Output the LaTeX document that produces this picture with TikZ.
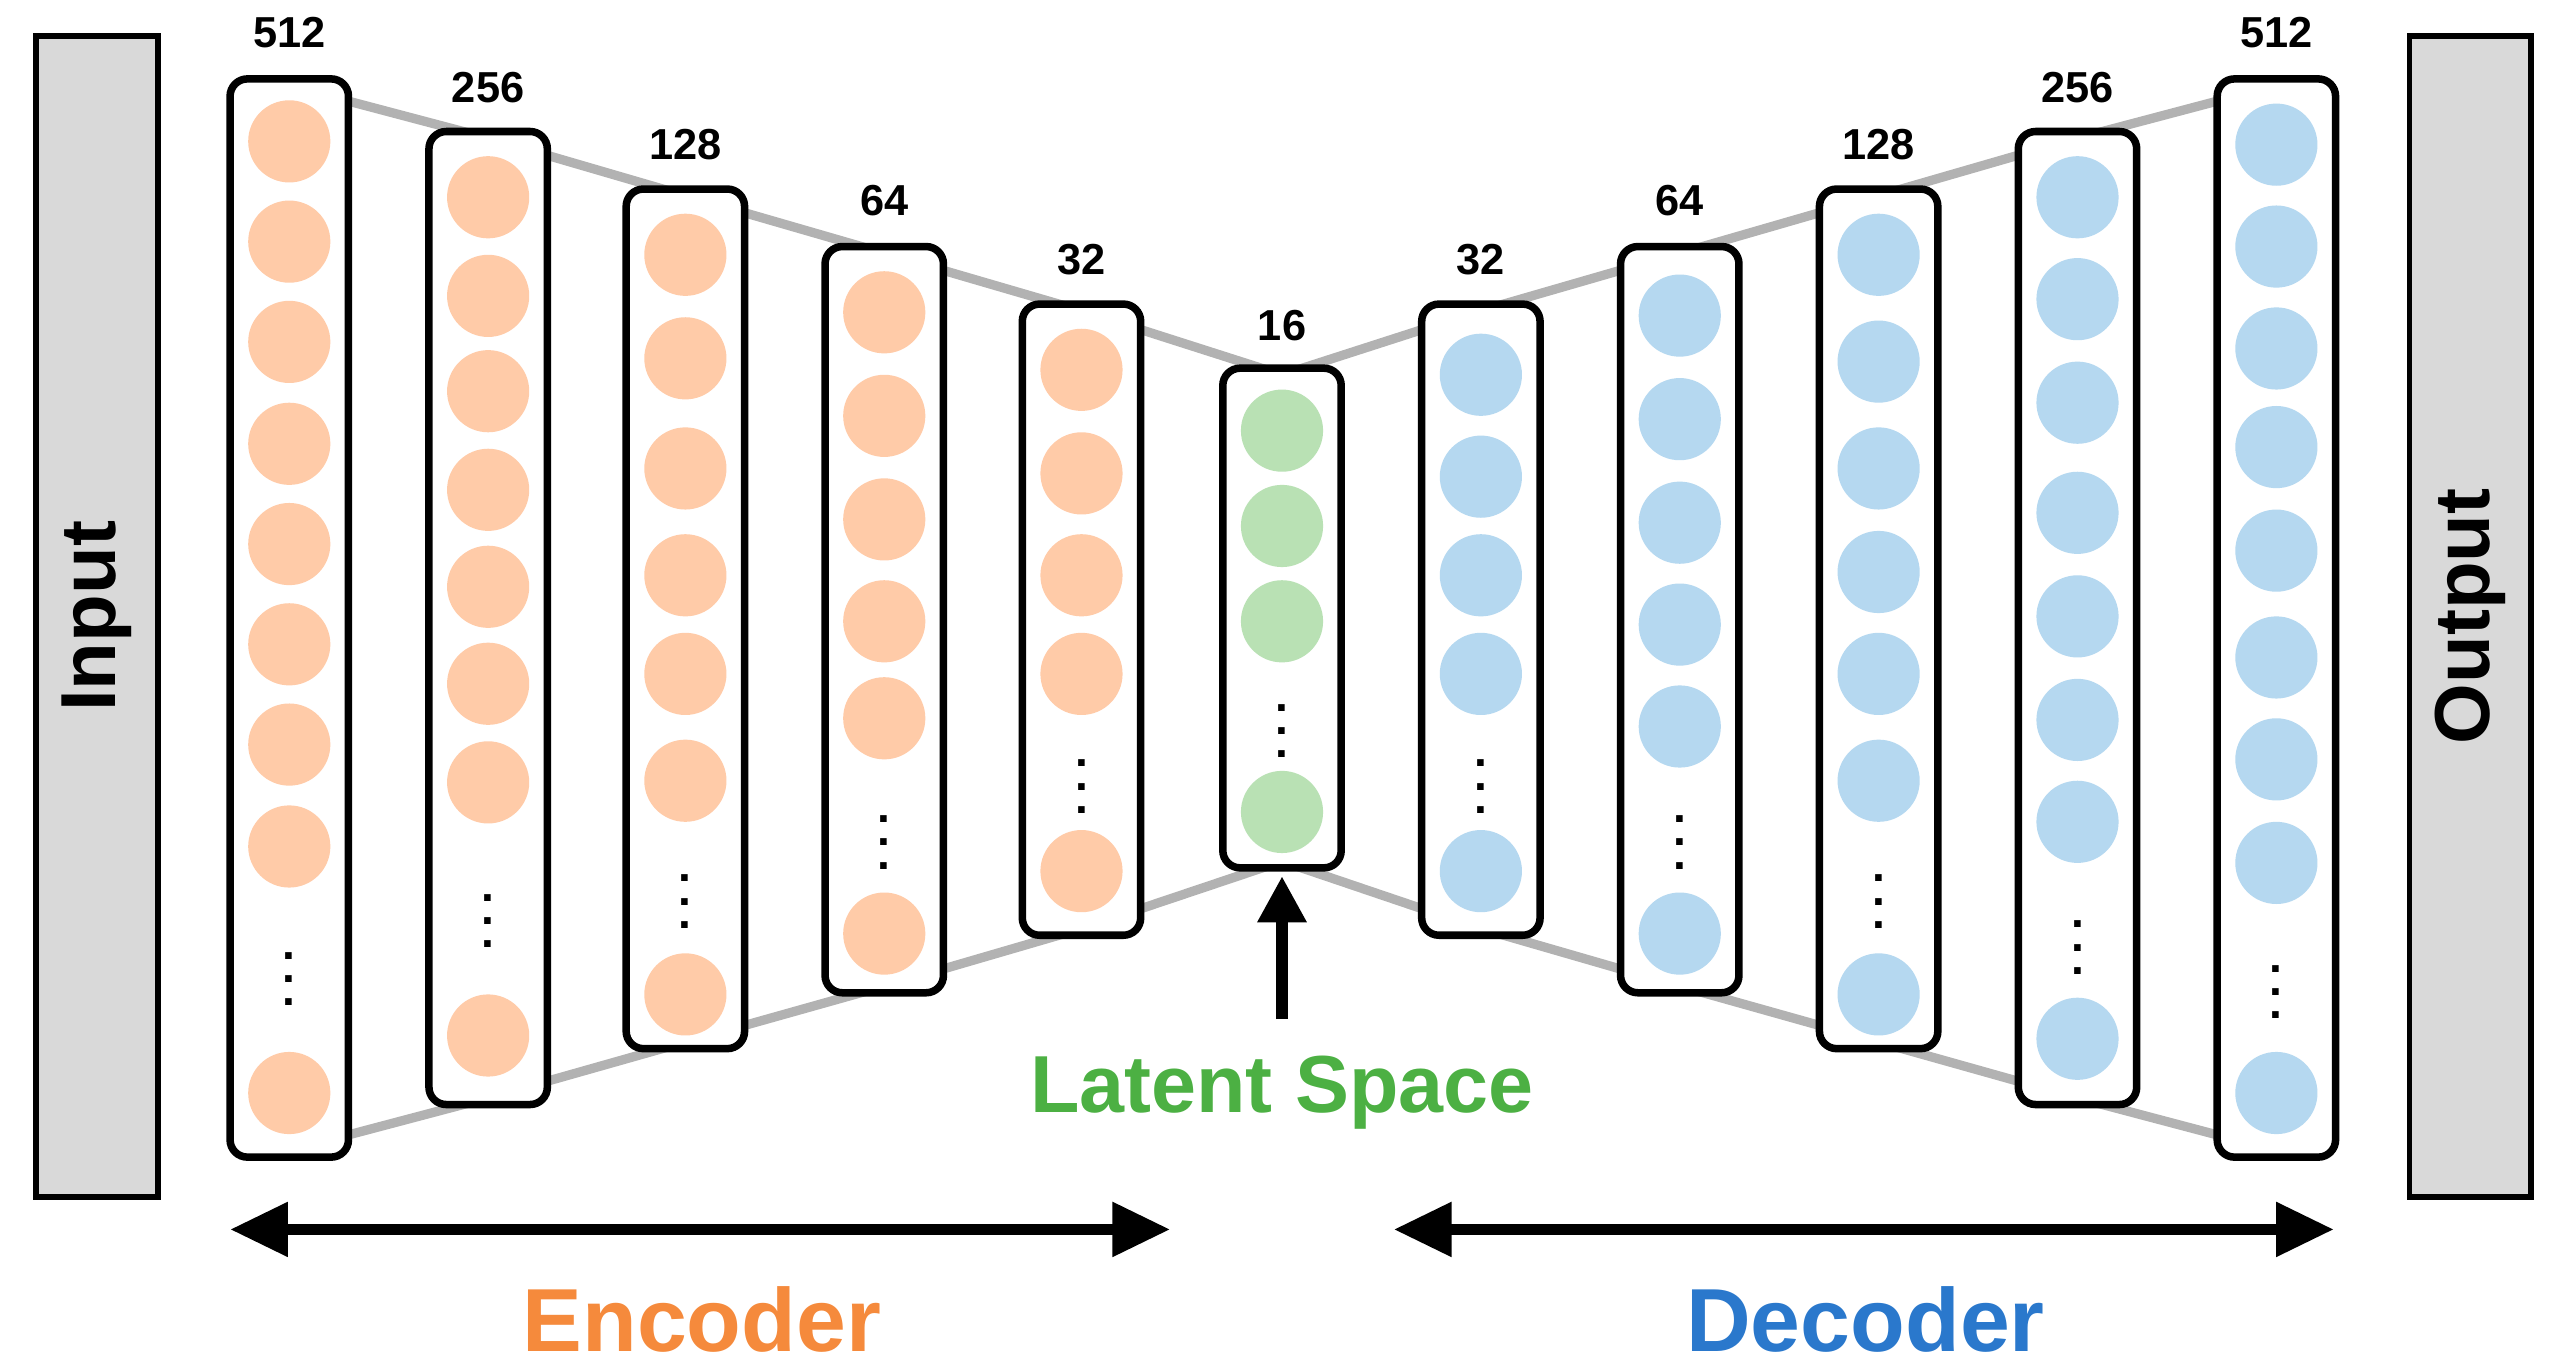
\documentclass[tikz,border=0pt]{standalone}
\usepackage{fontspec}
\setmainfont{Liberation Sans}
\usetikzlibrary{arrows.meta}
\definecolor{oc}{HTML}{FFCBA8}\definecolor{bc}{HTML}{B5D8F0}\definecolor{gc}{HTML}{B9E1B4}
\definecolor{ot}{HTML}{F58A3C}\definecolor{gt}{HTML}{4CB043}\definecolor{bt}{HTML}{2A78CC}
\begin{document}
\begin{tikzpicture}[x=0.01cm,y=-0.01cm,
 col/.style={draw=black,line width=1.3pt,rounded corners=3pt,fill=white,minimum width=0.72cm,inner sep=0pt},
 bar/.style={draw=black,line width=1pt,fill=black!15,minimum width=0.74cm,minimum height=7.06cm,inner sep=0pt},
 num/.style={font=\bfseries\fontsize{7.5}{8}\selectfont},
 dd/.style={font=\bfseries\fontsize{8}{8}\selectfont,inner sep=0pt},
 link/.style={draw=black!30,line width=1.6pt}]
\useasboundingbox (0,0) rectangle (1560,832);
\draw[link] (176,52)--(297,84)--(417,119)--(538,154)--(658,189)--(780,228)--(901,189)--(1022,154)--(1143,119)--(1264,84)--(1385,52);
\draw[link] (176,700)--(297,668)--(417,634)--(538,600)--(658,565)--(780,524)--(901,565)--(1022,600)--(1143,634)--(1264,668)--(1385,700);
\node[bar] (in) at (59,375) {}; \node[rotate=90,font=\bfseries\fontsize{13.5}{14}\selectfont] (intext) at (59,375) {Input};
\node[bar] (out) at (1503,375) {}; \node[rotate=90,font=\bfseries\fontsize{13.5}{14}\selectfont] (outtext) at (1503,375) {Output};
\foreach \n/\x/\t/\b/\l/\ly/\c/\cs/\dy/\lc in {
 e1/176/48/704/512/20/oc/{86,147,208,270,331,392,453,515}/585/665,
 e2/297/80/672/256/53/oc/{120,180,238,298,357,416,476}/550/630,
 e3/417/115/638/128/88/oc/{155,218,285,350,410,475}/538/605,
 e4/538/150/604/64/122/oc/{190,253,316,378,437}/502/568,
 e5/658/185/569/32/158/oc/{225,288,350,410}/468/530,
 lt/780/224/528/16/198/gc/{262,320,378}/434/494,
 d1/901/185/569/32/158/bc/{228,290,350,410}/468/530,
 d2/1022/150/604/64/122/bc/{192,255,318,380,442}/502/568,
 d3/1143/115/638/128/88/bc/{155,220,285,348,410,475}/538/605,
 d4/1264/80/672/256/53/bc/{120,182,245,312,375,438,500}/566/632,
 d5/1385/48/704/512/20/bc/{88,150,212,272,335,400,462,525}/593/665}{
 \pgfmathsetmacro\hh{(\b-\t)*0.01}
 \node[col,minimum height=\hh cm] (\n) at (\x,{(\t+\b)/2}) {};
 \node[num] (\n l) at (\x,\ly) {\l};
 \foreach \cy in \cs {\fill[\c] (\x,\cy) circle (25);}
 \fill[\c] (\x,\lc) circle (25);
 \node[dd] (\n d) at (\x,\dy) {$\vdots$};
}
\coordinate (ab) at (780,620); \coordinate (at) at (780,533);
\draw[-{Triangle[length=8pt,width=8pt]},line width=2pt] (ab)--(at);
\node[gt,font=\bfseries\fontsize{14}{14}\selectfont] (ls) at (780,665) {Latent Space};
\coordinate (ea) at (140,748); \coordinate (eb) at (712,748);
\coordinate (da) at (848,748); \coordinate (db) at (1420,748);
\draw[{Triangle[length=10pt,width=9pt]}-{Triangle[length=10pt,width=9pt]},line width=2pt] (ea)--(eb);
\draw[{Triangle[length=10pt,width=9pt]}-{Triangle[length=10pt,width=9pt]},line width=2pt] (da)--(db);
\node[ot,font=\bfseries\fontsize{15.5}{16}\selectfont] (enc) at (427,803) {Encoder};
\node[bt,font=\bfseries\fontsize{15.5}{16}\selectfont] (dec) at (1135,803) {Decoder};
\end{tikzpicture}
\end{document}
